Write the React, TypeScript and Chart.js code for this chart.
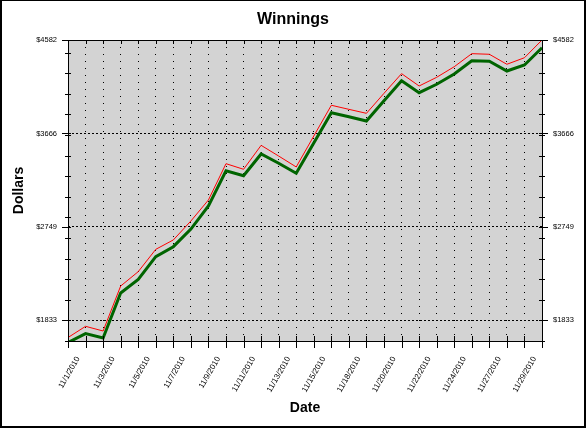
import React, { useEffect, useRef } from "react";
import { Chart, registerables } from "chart.js";

Chart.register(...registerables);

const dates = [
  "11/1/2010", "11/2/2010", "11/3/2010", "11/4/2010", "11/5/2010", "11/6/2010", "11/7/2010",
  "11/8/2010", "11/9/2010", "11/10/2010", "11/11/2010", "11/12/2010", "11/13/2010", "11/14/2010",
  "11/15/2010", "11/16/2010", "11/18/2010", "11/19/2010", "11/20/2010", "11/21/2010", "11/22/2010",
  "11/23/2010", "11/24/2010", "11/26/2010", "11/27/2010", "11/28/2010", "11/29/2010", "11/30/2010",
];

const winnings = [
  1615, 1702, 1660, 2101, 2235, 2457, 2555, 2728, 2954, 3300, 3251, 3464, 3373, 3275,
  3572, 3869, 3830, 3788, 3987, 4183, 4065, 4148, 4249, 4379, 4373, 4278, 4337, 4506,
];

const upper = [
  1664, 1774, 1728, 2169, 2310, 2529, 2621, 2807, 3013, 3369, 3314, 3549, 3444, 3337,
  3640, 3942, 3902, 3863, 4059, 4252, 4131, 4216, 4320, 4448, 4442, 4344, 4408, 4582,
];

const yTickValues = [1832.8, 2749.2, 3665.6, 4582];
const yMin = 1630;
const yMax = 4582;
const yMinorStep = 202;

const FONT = "'Liberation Sans', Arial, sans-serif";

const decor = {
  id: "decor",
  beforeDraw(chart: any) {
    const { ctx, chartArea: a } = chart;
    ctx.save();
    ctx.fillStyle = "#ffffff";
    ctx.fillRect(0, 0, chart.width, chart.height);
    ctx.fillStyle = "#d3d3d3";
    ctx.fillRect(a.left, a.top, a.right - a.left, a.bottom - a.top);
    ctx.restore();
  },
  afterDraw(chart: any) {
    const { ctx, chartArea: a, scales } = chart;
    const xs = scales.x;
    const ys = scales.y;
    const L = Math.round(a.left);
    const R = Math.round(a.right);
    const T = Math.round(a.top);
    const B = Math.round(a.bottom);
    ctx.save();
    ctx.fillStyle = "#000";
    ctx.fillRect(L, T, R - L + 1, 1);
    ctx.fillRect(L, B, R - L + 1, 1);
    ctx.fillRect(L, T, 1, B - T + 1);
    ctx.fillRect(R, T, 1, B - T + 1);
    for (let i = 0; i < dates.length; i++) {
      const px = Math.round(xs.getPixelForValue(i));
      ctx.fillRect(px, B - 5, 1, 12);
      ctx.fillRect(px, T, 1, 4);
    }
    for (const v of yTickValues) {
      const py = Math.round(ys.getPixelForValue(v));
      ctx.fillRect(L - 6, py, 9, 1);
      ctx.fillRect(R - 3, py, 9, 1);
    }
    for (let v = yMin; v <= yMax; v += yMinorStep) {
      const py = Math.round(ys.getPixelForValue(v));
      ctx.fillRect(L - 3, py, 6, 1);
      ctx.fillRect(R - 3, py, 6, 1);
    }
    const W = chart.width;
    const H = chart.height;
    ctx.fillRect(0, 0, W, 1);
    ctx.fillRect(0, 0, 2, H);
    ctx.fillRect(W - 2, 0, 2, H);
    ctx.fillRect(0, H - 2, W, 2);
    ctx.restore();
  },
};

export default function App() {
  const ref = useRef<HTMLCanvasElement | null>(null);

  useEffect(() => {
    if (!ref.current) return;
    const tickFont = { family: FONT, size: 7.5 };
    const chart = new Chart(ref.current, {
      type: "line",
      data: {
        labels: dates,
        datasets: [
          {
            label: "Upper",
            data: upper,
            borderColor: "#ff0000",
            borderWidth: 1,
            pointRadius: 0,
            tension: 0,
            fill: false,
          },
          {
            label: "Winnings",
            data: winnings,
            borderColor: "#006400",
            borderWidth: 3,
            pointRadius: 0,
            tension: 0,
            fill: false,
          },
        ],
      },
      plugins: [decor],
      options: {
        animation: false,
        responsive: false,
        maintainAspectRatio: false,
        layout: { padding: 0 },
        plugins: {
          legend: { display: false },
          tooltip: { enabled: false },
          title: {
            display: true,
            text: "Winnings",
            color: "#000",
            font: { family: FONT, size: 16, weight: "bold" },
            padding: { top: 10, bottom: 10.8 },
          },
        },
        scales: {
          x: {
            type: "category",
            position: "bottom",
            afterFit: (s: any) => {
              s.height = 87;
            },
            grid: {
              display: true,
              drawTicks: false,
              color: "#000",
              lineWidth: 1,
            },
            border: { display: false, dash: [1, 6] },
            ticks: {
              autoSkip: false,
              maxRotation: 60,
              minRotation: 60,
              padding: 14,
              labelOffset: 10,
              color: "#000",
              font: { family: FONT, size: 8 },
              callback: (_v: any, i: number) => (i % 2 === 0 ? dates[i] : ""),
            },
            title: {
              display: true,
              text: "Date",
              color: "#000",
              font: { family: FONT, size: 14, weight: "bold" },
              padding: { top: 0, bottom: 11.8 },
            },
          },
          y: {
            type: "linear",
            position: "left",
            min: yMin,
            max: yMax,
            bounds: "data",
            afterFit: (s: any) => {
              s.width = 68;
            },
            afterBuildTicks: (s: any) => {
              s.ticks = yTickValues.map((v) => ({ value: v }));
            },
            grid: {
              display: true,
              drawTicks: false,
              color: "#000",
              lineWidth: 1,
            },
            border: { display: false, dash: [2, 2] },
            ticks: {
              padding: 11,
              color: "#000",
              font: tickFont,
              callback: (v: any) => "$" + Math.round(Number(v)),
            },
            title: {
              display: true,
              text: "Dollars",
              color: "#000",
              font: { family: FONT, size: 14, weight: "bold" },
              padding: { top: 11.1, bottom: 0 },
            },
          },
          y2: {
            type: "linear",
            position: "right",
            min: yMin,
            max: yMax,
            bounds: "data",
            afterFit: (s: any) => {
              s.width = 44;
            },
            afterBuildTicks: (s: any) => {
              s.ticks = yTickValues.map((v) => ({ value: v }));
            },
            grid: { display: false, drawTicks: false },
            border: { display: false },
            ticks: {
              padding: 11,
              color: "#000",
              font: tickFont,
              callback: (v: any) => "$" + Math.round(Number(v)),
            },
          },
        },
      } as any,
    });
    return () => chart.destroy();
  }, []);

  return (
    <div style={{ position: "fixed", left: 0, top: 0, width: 586, height: 428 }}>
      <canvas ref={ref} width={586} height={428} style={{ display: "block" }} />
    </div>
  );
}
